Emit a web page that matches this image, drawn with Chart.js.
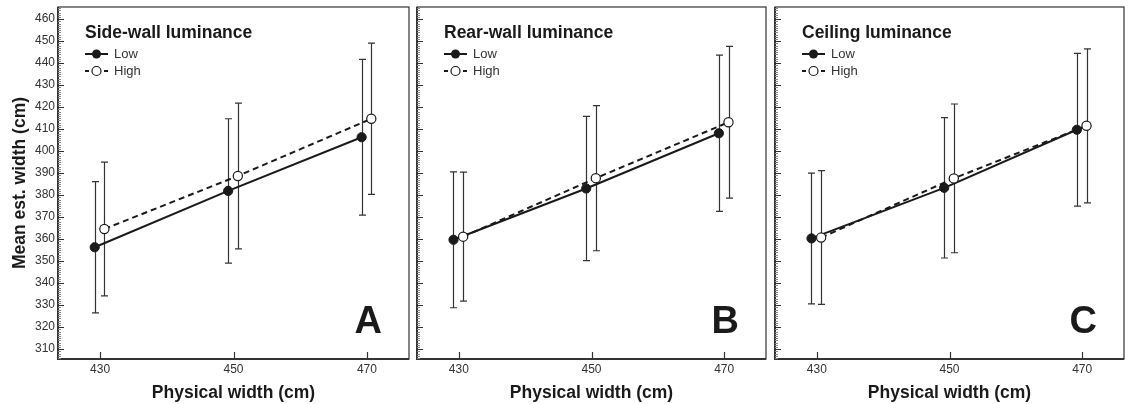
<!DOCTYPE html>
<html>
<head>
<meta charset="utf-8">
<script src="https://cdn.jsdelivr.net/npm/chart.js@4.4.1/dist/chart.umd.min.js"></script>
<style>
	body { margin: 0; background: #fff; }
	#wrap { position: relative; width: 1129px; height: 404px; }
	canvas { position: absolute; top: 0; }
</style>
</head>
<body>
<div id="wrap">
	<canvas id="chartA" width="412" height="404" style="left:0px"></canvas>
	<canvas id="chartB" width="358" height="404" style="left:412px"></canvas>
	<canvas id="chartC" width="359" height="404" style="left:770px"></canvas>
</div>
<script>
// physical widths (cm)
const widths = [430, 450, 470];
const xTicks = [430, 450, 470];
const yTicks = [310, 320, 330, 340, 350, 360, 370, 380, 390, 400, 410, 420, 430, 440, 450, 460];

const panelTitles = ['Side-wall luminance', 'Rear-wall luminance', 'Ceiling luminance'];
const panelLetters = ['A', 'B', 'C'];
const seriesNames = ['Low', 'High'];

// mean estimated width and error bar half-width, per panel
const sideLowMean = [356.3, 381.9, 406.3];
const sideLowErr = [29.8, 32.8, 35.4];
const sideHighMean = [364.6, 388.7, 414.7];
const sideHighErr = [30.4, 33.1, 34.4];

const rearLowMean = [359.7, 383.0, 408.1];
const rearLowErr = [30.9, 32.8, 35.5];
const rearHighMean = [361.1, 387.7, 413.1];
const rearHighErr = [29.3, 33.0, 34.5];

const ceilLowMean = [360.3, 383.3, 409.7];
const ceilLowErr = [29.7, 31.9, 34.7];
const ceilHighMean = [360.7, 387.6, 411.5];
const ceilHighErr = [30.4, 33.8, 35.0];

const FONT = "'Liberation Sans', Arial, Helvetica, sans-serif";
const INK = '#1a1a1a';

function noPad(s) {
	s.paddingTop = 0;
	s.paddingBottom = 0;
	s.paddingLeft = 0;
	s.paddingRight = 0;
}

function makePanel(id, idx, lowMean, lowErr, highMean, highErr, opts) {
	const jitterLow = -0.8;
	const jitterHigh = 0.65;

	const lowPts = widths.map((w, i) => ({ x: w + jitterLow, y: lowMean[i], e: lowErr[i] }));
	const highPts = widths.map((w, i) => ({ x: w + jitterHigh, y: highMean[i], e: highErr[i] }));

	const panelPlugin = {
		id: 'panel' + idx,
		beforeDatasetsDraw(chart) {
			const ctx = chart.ctx;
			const xs = chart.scales.x;
			const ys = chart.scales.y;
			ctx.save();
			ctx.strokeStyle = '#333';
			ctx.lineWidth = 1.2;
			chart.data.datasets.forEach(ds => {
				ds.data.forEach(p => {
					const px = Math.round(xs.getPixelForValue(p.x)) + 0.5;
					const top = ys.getPixelForValue(p.y + p.e);
					const bot = ys.getPixelForValue(p.y - p.e);
					ctx.beginPath();
					ctx.moveTo(px, top);
					ctx.lineTo(px, bot);
					ctx.moveTo(px - 3.5, top);
					ctx.lineTo(px + 3.5, top);
					ctx.moveTo(px - 3.5, bot);
					ctx.lineTo(px + 3.5, bot);
					ctx.stroke();
				});
			});
			ctx.restore();
		},
		afterDraw(chart) {
			const ctx = chart.ctx;
			const a = chart.chartArea;
			const xs = chart.scales.x;
			const ys = chart.scales.y;
			ctx.save();

			// frame
			ctx.strokeStyle = '#333';
			ctx.lineWidth = 1.2;
			ctx.strokeRect(a.left, a.top, a.right - a.left, a.bottom - a.top);
			ctx.lineWidth = 2;
			ctx.beginPath();
			ctx.moveTo(a.left, a.top);
			ctx.lineTo(a.left, a.bottom);
			ctx.lineTo(a.right, a.bottom);
			ctx.stroke();

			// minor y ticks every unit, major every 10, drawn inward
			ctx.lineWidth = 1;
			for (let v = Math.ceil(ys.min); v <= ys.max; v++) {
				const py = Math.round(ys.getPixelForValue(v)) + 0.5;
				const major = v % 10 === 0;
				ctx.strokeStyle = major ? '#333' : '#888';
				ctx.beginPath();
				ctx.moveTo(a.left, py);
				ctx.lineTo(a.left + (major ? 6 : 3), py);
				ctx.stroke();
			}
			// x ticks inward
			ctx.strokeStyle = '#333';
			ctx.lineWidth = 1.2;
			xTicks.forEach(t => {
				const px = Math.round(xs.getPixelForValue(t)) + 0.5;
				ctx.beginPath();
				ctx.moveTo(px, a.bottom);
				ctx.lineTo(px, a.bottom - 7);
				ctx.stroke();
			});

			// panel title
			ctx.fillStyle = INK;
			ctx.textBaseline = 'alphabetic';
			ctx.textAlign = 'left';
			ctx.font = 'bold 17.5px ' + FONT;
			ctx.fillText(panelTitles[idx], a.left + 27, a.top + 31);

			// legend
			const lx = a.left + 27;
			const rows = [a.top + 47, a.top + 64];
			ctx.lineWidth = 2;
			ctx.strokeStyle = INK;
			ctx.beginPath();
			ctx.moveTo(lx, rows[0]);
			ctx.lineTo(lx + 23, rows[0]);
			ctx.stroke();
			ctx.beginPath();
			ctx.moveTo(lx, rows[1]);
			ctx.lineTo(lx + 4, rows[1]);
			ctx.moveTo(lx + 19, rows[1]);
			ctx.lineTo(lx + 23, rows[1]);
			ctx.stroke();
			ctx.lineWidth = 1.2;
			ctx.beginPath();
			ctx.arc(lx + 11.5, rows[0], 4.5, 0, Math.PI * 2);
			ctx.fillStyle = INK;
			ctx.fill();
			ctx.beginPath();
			ctx.arc(lx + 11.5, rows[1], 4.5, 0, Math.PI * 2);
			ctx.fillStyle = '#fff';
			ctx.fill();
			ctx.stroke();
			ctx.fillStyle = '#333';
			ctx.font = '13px ' + FONT;
			ctx.textBaseline = 'middle';
			ctx.fillText(seriesNames[0], lx + 29, rows[0] + 0.5);
			ctx.fillText(seriesNames[1], lx + 29, rows[1] + 0.5);

			// panel letter
			ctx.fillStyle = INK;
			ctx.font = 'bold 38px ' + FONT;
			ctx.textAlign = 'right';
			ctx.textBaseline = 'alphabetic';
			ctx.fillText(panelLetters[idx], a.right - 27, a.bottom - 26);

			ctx.restore();
		}
	};

	return new Chart(document.getElementById(id), {
		type: 'line',
		data: {
			datasets: [
				{
					label: seriesNames[0],
					data: lowPts,
					borderColor: INK,
					borderWidth: 2,
					pointRadius: 4.6,
					pointBackgroundColor: INK,
					pointBorderColor: INK,
					pointBorderWidth: 1,
					tension: 0,
					order: 1
				},
				{
					label: seriesNames[1],
					data: highPts,
					borderColor: INK,
					borderWidth: 2,
					borderDash: [6, 4],
					pointRadius: 4.6,
					pointBackgroundColor: '#fff',
					pointBorderColor: INK,
					pointBorderWidth: 1.2,
					tension: 0,
					order: 0
				}
			]
		},
		options: {
			responsive: false,
			animation: false,
			events: [],
			layout: { autoPadding: false, padding: { left: 0, right: opts.padRight, top: 7, bottom: 0 } },
			plugins: { legend: { display: false }, tooltip: { enabled: false } },
			scales: {
				x: {
					type: 'linear',
					min: 423.7,
					max: 476.3,
					afterBuildTicks: s => { s.ticks = xTicks.map(v => ({ value: v })); },
					afterFit: s => { s.height = 45; noPad(s); },
					grid: { display: false, drawTicks: false, tickLength: 0 },
					border: { display: false },
					ticks: { color: '#333', padding: 3, font: { family: FONT, size: 12 } },
					title: {
						display: true,
						text: 'Physical width (cm)',
						color: INK,
						padding: { top: 0, bottom: 0 },
						font: { family: FONT, size: 17.5, weight: 'bold' }
					}
				},
				y: {
					min: 305.5,
					max: 465.5,
					afterBuildTicks: s => { s.ticks = yTicks.map(v => ({ value: v })); },
					afterFit: s => { s.width = opts.yWidth; noPad(s); },
					grid: { display: false, drawTicks: false, tickLength: 0 },
					border: { display: false },
					ticks: { display: opts.showY, color: '#333', padding: 3, font: { family: FONT, size: 12 } },
					title: {
						display: opts.showY,
						text: 'Mean est. width (cm)',
						color: INK,
						padding: { top: 10, bottom: 0 },
						font: { family: FONT, size: 17.5, weight: 'bold' }
					}
				}
			}
		},
		plugins: [panelPlugin]
	});
}

makePanel('chartA', 0, sideLowMean, sideLowErr, sideHighMean, sideHighErr, { yWidth: 58, padRight: 3, showY: true });
makePanel('chartB', 1, rearLowMean, rearLowErr, rearHighMean, rearHighErr, { yWidth: 5, padRight: 4, showY: false });
makePanel('chartC', 2, ceilLowMean, ceilLowErr, ceilHighMean, ceilHighErr, { yWidth: 5, padRight: 5, showY: false });
</script>
</body>
</html>
